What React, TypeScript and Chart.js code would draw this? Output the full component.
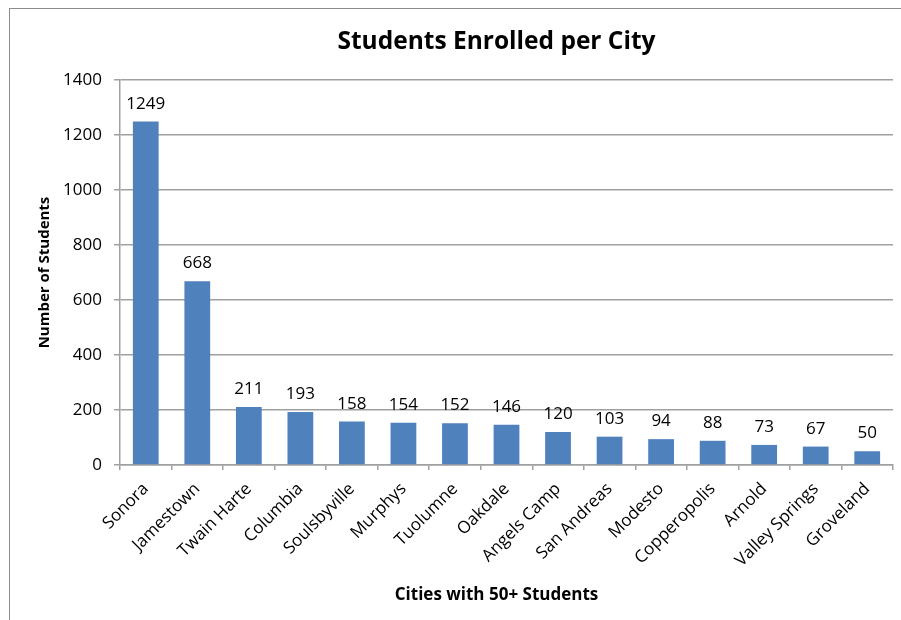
import React, { useEffect, useRef } from "react";
import { Chart, registerables } from "chart.js";

Chart.register(...registerables);

const cities: string[] = [
  "Sonora", "Jamestown", "Twain Harte", "Columbia", "Soulsbyville", "Murphys", "Tuolumne",
  "Oakdale", "Angels Camp", "San Andreas", "Modesto", "Copperopolis", "Arnold", "Valley Springs", "Groveland",
];
const students: number[] = [1249, 668, 211, 193, 158, 154, 152, 146, 120, 103, 94, 88, 73, 67, 50];
const yTicks: number[] = [0, 200, 400, 600, 800, 1000, 1200, 1400];

const chartTitle = "Students Enrolled per City";
const xTitle = "Cities with 50+ Students";
const yTitle = "Number of Students";

const FONT = "'Open Sans', sans-serif";
const GRID = "#a0a0a0";

export default function App() {
  const ref = useRef<HTMLCanvasElement | null>(null);

  useEffect(() => {
    if (!ref.current) return;
    const framePlugin = {
      id: "frame",
      beforeDraw(chart: any) {
        const ctx = chart.ctx;
        ctx.save();
        ctx.fillStyle = "#ffffff";
        ctx.fillRect(0, 0, chart.width, chart.height);
        ctx.strokeStyle = "#8c8c8c";
        ctx.lineWidth = 1;
        ctx.strokeRect(9.5, 8.5, 1000, 1000);
        ctx.restore();
      },
    };
    const labelPlugin = {
      id: "labels",
      afterDatasetsDraw(chart: any) {
        const ctx = chart.ctx;
        const meta = chart.getDatasetMeta(0);
        ctx.save();
        ctx.fillStyle = "#000";
        ctx.font = `17px ${FONT}`;
        ctx.textAlign = "center";
        ctx.textBaseline = "alphabetic";
        meta.data.forEach((bar: any, i: number) => {
          ctx.fillText(String(students[i]), bar.x, bar.y - 13);
        });
        const ca = chart.chartArea;
        const cx = (ca.left + ca.right) / 2 - 10;
        ctx.font = `bold 24.5px ${FONT}`;
        ctx.fillText(chartTitle, cx, 49);
        ctx.font = `bold 17px ${FONT}`;
        ctx.fillText(xTitle, cx, 600);
        ctx.restore();
      },
    };
    const chart = new Chart(ref.current, {
      type: "bar",
      data: {
        labels: cities,
        datasets: [
          {
            data: students,
            backgroundColor: "#4f81bd",
            barPercentage: 0.5,
            categoryPercentage: 1,
          },
        ],
      },
      options: {
        animation: false,
        responsive: false,
        events: [],
        layout: { padding: { top: 80, left: 32, right: 8, bottom: 0 } },
        plugins: { legend: { display: false }, tooltip: { enabled: false }, title: { display: false } },
        scales: {
          x: {
            grid: { display: true, drawOnChartArea: false, offset: true, tickLength: 5, color: GRID, lineWidth: 1.5 },
            border: { display: true, color: GRID, width: 1.5 },
            ticks: {
              autoSkip: false,
              minRotation: 45,
              maxRotation: 45,
              color: "#000",
              font: { family: FONT, size: 17 },
              padding: 9,
            },
            afterFit: (scale: any) => {
              scale.height = 155;
            },
          },
          y: {
            min: 0,
            max: 1400,
            afterBuildTicks: (scale: any) => {
              scale.ticks = yTicks.map((v) => ({ value: v }));
            },
            grid: { color: GRID, lineWidth: 1.5, tickLength: 6 },
            border: { display: true, color: GRID, width: 1.5 },
            ticks: {
              color: "#000",
              font: { family: FONT, size: 17 },
              padding: 12,
              callback: (v: any) => String(v),
            },
            title: {
              display: true,
              text: yTitle,
              color: "#000",
              font: { family: FONT, size: 15, weight: "bold" },
              padding: { top: 4, bottom: 9 },
            },
            afterFit: (scale: any) => {
              scale.width = 88;
            },
          },
        },
      },
      plugins: [framePlugin, labelPlugin],
    } as any);
    return () => chart.destroy();
  }, []);

  return (
    <canvas
      ref={ref}
      width={901}
      height={620}
      style={{ position: "absolute", left: 0, top: 0, width: 901, height: 620 }}
    />
  );
}
